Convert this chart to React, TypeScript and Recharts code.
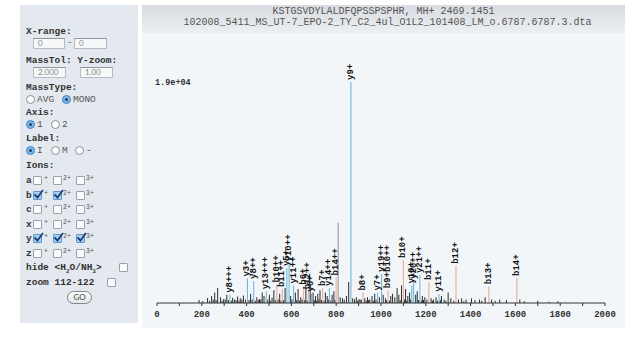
import React from 'react';
import { ComposedChart, Bar, XAxis, YAxis, Cell, LabelList } from 'recharts';

// ---- data ----
const titleLine1 = 'KSTGSVDYLALDFQPSSPSPHR, MH+ 2469.1451';
const titleLine2 = '102008_5411_MS_UT-7_EPO-2_TY_C2_4ul_O1L2_101408_LM_o.6787.6787.3.dta';
const maxIntensityLabel = '1.9e+04';

// y ions (blue)
const yIonMz = [326, 404, 432, 488, 580, 590, 610, 690, 770, 866, 985, 1003, 1138, 1146, 1174, 1259];
const yIonInt = [700, 2100, 1900, 1000, 3000, 3400, 1500, 800, 1300, 19000, 900, 2500, 1500, 1900, 2400, 800];
const yIonLabel = ['y8+++', 'y3+', 'y8++', 'y13+++', 'y5+', 'y10++', 'y11++', 'y6+', 'y14++', 'y9+', 'y7+', 'y19++', 'y10+', 'y20++', 'y21++', 'y11+'];

// b ions (salmon)
const bIonMz = [535, 560, 655, 676, 740, 800, 920, 1032, 1100, 1214, 1335, 1482, 1607];
const bIonInt = [1600, 1200, 1400, 1000, 1300, 2200, 900, 1100, 3700, 1800, 3200, 1450, 2150];
const bIonLabel = ['b10++', 'b11++', 'b6+', 'b12++', 'b7+', 'b14++', 'b8+', 'b9+b10++', 'b10+', 'b11+', 'b12+', 'b13+', 'b14+'];

// unassigned peaks (dark)
const otherMz = [188, 205, 226, 244, 258, 271, 284, 298, 312, 338, 346, 360, 372, 386, 395, 418, 446, 458, 470, 478, 502, 514, 522, 548, 572, 597, 618, 630, 642, 665, 684, 697, 708, 718, 728, 752, 760, 782, 790, 809, 818, 828, 836, 846, 856, 874, 882, 890, 902, 912, 928, 940, 950, 960, 972, 993, 1010, 1020, 1044, 1052, 1062, 1072, 1080, 1092, 1110, 1120, 1128, 1155, 1162, 1185, 1196, 1224, 1235, 1246, 1270, 1282, 1300, 1312, 1346, 1360, 1380, 1404, 1420, 1440, 1465, 1494, 1510, 1530, 1560, 1620, 1700, 1790];
const otherInt = [250, 180, 420, 600, 900, 1300, 500, 350, 700, 450, 300, 550, 400, 650, 300, 800, 500, 350, 900, 600, 700, 450, 1100, 800, 1300, 600, 900, 1200, 500, 1300, 1500, 900, 600, 800, 1100, 900, 600, 700, 1000, 6900, 500, 400, 300, 600, 1800, 400, 300, 500, 350, 300, 400, 500, 300, 600, 800, 500, 700, 400, 600, 800, 500, 1300, 700, 1500, 1200, 600, 900, 700, 1000, 600, 500, 400, 300, 500, 600, 300, 900, 400, 300, 400, 300, 400, 250, 300, 500, 300, 200, 300, 250, 300, 200, 150];

// small background peaks near the baseline
const smallMz = [235, 251, 264, 291, 305, 319, 332, 353, 366, 379, 411, 425, 439, 452, 464, 495, 508, 528, 541, 554, 566, 603, 624, 636, 648, 660, 671, 702, 713, 723, 734, 746, 765, 776, 795, 896, 907, 934, 945, 966, 978, 1026, 1038, 1086, 1105, 1115, 1133, 1168, 1180, 1190, 1205, 1230, 1252, 1265, 1290, 1325, 1370, 1450, 1640, 1750];
const smallInt = [200, 300, 250, 200, 300, 250, 200, 250, 200, 300, 250, 300, 200, 250, 300, 300, 200, 250, 300, 200, 250, 300, 250, 200, 300, 250, 200, 250, 200, 300, 250, 200, 300, 200, 250, 200, 250, 200, 250, 200, 300, 250, 200, 250, 300, 200, 300, 250, 200, 250, 300, 200, 200, 250, 200, 200, 150, 200, 150, 100];

const xTicks = [0, 100, 200, 300, 400, 500, 600, 700, 800, 900, 1000, 1100, 1200, 1300, 1400, 1500, 1600, 1700, 1800, 1900, 2000];

const ionTypes = ['a', 'b', 'c', 'x', 'y', 'z'];
const ionChecks: boolean[][] = [
  [false, false, false],
  [true, true, false],
  [false, false, false],
  [false, false, false],
  [true, true, true],
  [false, false, false],
];

const COLORS = { y: '#62b4dc', b: '#e6a593', other: '#2a2a2a', gray: '#8c8c8c' };

type Peak = { mz: number; intensity: number; label: string; kind: string };
const peaks: Peak[] = [
  ...otherMz.map((m, i) => ({ mz: m, intensity: otherInt[i], label: '', kind: otherInt[i] > 5000 ? 'gray' : 'other' })),
  ...smallMz.map((m, i) => ({ mz: m, intensity: smallInt[i], label: '', kind: 'other' })),
  ...bIonMz.map((m, i) => ({ mz: m, intensity: bIonInt[i], label: bIonLabel[i], kind: 'b' })),
  ...yIonMz.map((m, i) => ({ mz: m, intensity: yIonInt[i], label: yIonLabel[i], kind: 'y' })),
].sort((a, b) => a.mz - b.mz);

const mono = '"Liberation Mono", "DejaVu Sans Mono", monospace';

const PeakLabel = (props: any) => {
  const { x, y, width, value } = props;
  if (!value) return null;
  const cx = Number(x) + Number(width) / 2;
  const ty = Number(y) - 2;
  return (
    <text
      x={cx}
      y={ty}
      transform={`rotate(-90 ${cx} ${ty})`}
      textAnchor="start"
      dominantBaseline="central"
      fontSize={9}
      fontFamily={mono}
      fontWeight="bold"
      fill="#111"
    >
      {value}
    </text>
  );
};

const txt: React.CSSProperties = {
  position: 'absolute',
  fontFamily: mono,
  fontWeight: 'bold',
  fontSize: 9.5,
  color: '#333',
  lineHeight: '10px',
  whiteSpace: 'nowrap',
};

const Box = ({ left, top, width, text }: { left: number; top: number; width: number; text: string }) => (
  <div
    style={{
      position: 'absolute',
      left,
      top,
      width,
      height: 11,
      background: '#f6f8fa',
      border: '1px solid #b5bcc4',
      borderTopColor: '#8f969e',
      boxSizing: 'border-box',
      fontFamily: 'Lato, "Noto Sans", sans-serif',
      fontSize: 8,
      color: '#888',
      lineHeight: '9px',
      paddingLeft: 4,
    }}
  >
    {text}
  </div>
);

const Radio = ({ left, top, checked }: { left: number; top: number; checked?: boolean }) => (
  <div
    style={{
      position: 'absolute',
      left,
      top,
      width: 9,
      height: 9,
      borderRadius: '50%',
      boxSizing: 'border-box',
      border: checked ? '1px solid #3f86c6' : '1px solid #8a9098',
      background: checked ? '#7fb8e6' : '#fafbfc',
    }}
  >
    {checked && (
      <div style={{ position: 'absolute', left: 2, top: 2, width: 3, height: 3, borderRadius: '50%', background: '#1d3f66' }} />
    )}
  </div>
);

const Check = ({ left, top, checked }: { left: number; top: number; checked?: boolean }) => (
  <div
    style={{
      position: 'absolute',
      left,
      top,
      width: 9,
      height: 9,
      boxSizing: 'border-box',
      borderRadius: 1,
      border: checked ? '1px solid #5c98cc' : '1px solid #9aa1a9',
      background: checked ? '#a9d0f0' : '#fafbfc',
    }}
  >
    {checked && (
      <svg width={11} height={10} style={{ position: 'absolute', left: -1, top: -3 }}>
        <path d="M1.5 5.5 L4.5 8.5 L10 1" stroke="#1f3f7a" strokeWidth={1.8} fill="none" />
      </svg>
    )}
  </div>
);

const Sup = ({ left, top, t }: { left: number; top: number; t: string }) => (
  <div style={{ ...txt, left, top, fontSize: 6.5, fontWeight: 'normal', color: '#555' }}>{t}</div>
);

const Panel = () => {
  const rowTop0 = 176;
  const rowStep = 14.6;
  return (
    <div style={{ position: 'absolute', left: 20, top: 5, width: 118, height: 318, background: '#e4e9ef' }}>
      <div style={{ position: 'absolute', left: -20, top: -5 }}>
        <div style={{ ...txt, left: 26, top: 27 }}>X-range:</div>
        <Box left={33} top={38} width={32} text="0" />
        <div style={{ ...txt, left: 67, top: 38, fontWeight: 'normal', color: '#666' }}>-</div>
        <Box left={74} top={38} width={33} text="0" />
        <div style={{ ...txt, left: 26, top: 56 }}>MassTol: Y-zoom:</div>
        <Box left={33} top={67} width={33} text="2.000" />
        <Box left={80} top={67} width={33} text="1.00" />
        <div style={{ ...txt, left: 26, top: 83 }}>MassType:</div>
        <Radio left={26} top={95} />
        <div style={{ ...txt, left: 37, top: 95, fontWeight: 'normal', color: '#555' }}>AVG</div>
        <Radio left={62} top={95} checked />
        <div style={{ ...txt, left: 73, top: 95, fontWeight: 'normal', color: '#555' }}>MONO</div>
        <div style={{ ...txt, left: 26, top: 108 }}>Axis:</div>
        <Radio left={26} top={120} checked />
        <div style={{ ...txt, left: 37, top: 120, fontWeight: 'normal', color: '#555' }}>1</div>
        <Radio left={51} top={120} />
        <div style={{ ...txt, left: 62, top: 120, fontWeight: 'normal', color: '#555' }}>2</div>
        <div style={{ ...txt, left: 26, top: 134 }}>Label:</div>
        <Radio left={26} top={146} checked />
        <div style={{ ...txt, left: 37, top: 146, fontWeight: 'normal', color: '#555' }}>I</div>
        <Radio left={51} top={146} />
        <div style={{ ...txt, left: 62, top: 146, fontWeight: 'normal', color: '#555' }}>M</div>
        <Radio left={75} top={146} />
        <div style={{ ...txt, left: 86, top: 146, fontWeight: 'normal', color: '#555' }}>-</div>
        <div style={{ ...txt, left: 26, top: 161 }}>Ions:</div>
        {ionTypes.map((t, i) => {
          const top = rowTop0 + i * rowStep;
          return (
            <React.Fragment key={t}>
              <div style={{ ...txt, left: 26, top }}>{t}</div>
              <Check left={33} top={top} checked={ionChecks[i][0]} />
              <Sup left={44} top={top - 2} t="+" />
              <Check left={53} top={top} checked={ionChecks[i][1]} />
              <Sup left={63} top={top - 2} t="2+" />
              <Check left={76} top={top} checked={ionChecks[i][2]} />
              <Sup left={86} top={top - 2} t="3+" />
            </React.Fragment>
          );
        })}
        <div style={{ ...txt, left: 26, top: 263 }}>
          hide &lt;H<sub style={{ fontSize: 6 }}>2</sub>O/NH<sub style={{ fontSize: 6 }}>3</sub>&gt;
        </div>
        <Check left={119} top={263} />
        <div style={{ ...txt, left: 26, top: 278 }}>zoom 112-122</div>
        <Check left={107} top={278} />
        <div
          style={{
            position: 'absolute',
            left: 67,
            top: 291,
            width: 25,
            height: 13,
            borderRadius: 7,
            border: '1px solid #7d848c',
            background: 'linear-gradient(#fdfdfd, #e2e5e8)',
            boxSizing: 'border-box',
            fontFamily: 'Lato, "Noto Sans", sans-serif',
            fontSize: 8,
            color: '#444',
            textAlign: 'center',
            lineHeight: '11px',
          }}
        >
          GO
        </div>
      </div>
    </div>
  );
};

const xTickFmt = (v: number) => (v % 200 === 0 ? String(v) : '');

export default function App() {
  return (
    <div style={{ position: 'absolute', left: 0, top: 0, width: 625, height: 339, background: '#ffffff', overflow: 'hidden' }}>
      <Panel />
      <div style={{ position: 'absolute', left: 142, top: 5, width: 483, height: 323, background: '#f3f6f9' }} />
      <div
        style={{
          position: 'absolute',
          left: 142,
          top: 5,
          width: 483,
          height: 28,
          background: 'linear-gradient(#d8dbdf, #edf0f2)',
        }}
      />
      <div style={{ position: 'absolute', left: 142, top: 6, width: 483, textAlign: 'center', fontFamily: mono, fontSize: 10, color: '#555', lineHeight: '11px' }}>
        {titleLine1}
      </div>
      <div style={{ position: 'absolute', left: 146, top: 17, width: 483, textAlign: 'center', fontFamily: mono, fontSize: 10, color: '#555', lineHeight: '11px' }}>
        {titleLine2}
      </div>
      <div style={{ position: 'absolute', left: 155, top: 79, fontFamily: mono, fontWeight: 'bold', fontSize: 8.5, color: '#333', lineHeight: '9px' }}>
        {maxIntensityLabel}
      </div>
      <div style={{ position: 'absolute', left: 142, top: 33 }}>
        <ComposedChart
          width={483}
          height={295}
          data={peaks}
          margin={{ top: 49, right: 20, bottom: 5, left: 15 }}
          barGap={0}
          barCategoryGap={0}
        >
          <XAxis
            dataKey="mz"
            type="number"
            domain={[0, 2000]}
            ticks={xTicks}
            tickFormatter={xTickFmt}
            interval={0}
            height={20}
            tickSize={3}
            tickMargin={5}
            stroke="#333"
            tick={{ fontSize: 9, fontFamily: mono, fontWeight: 'bold', fill: '#333' }}
            allowDataOverflow
          />
          <YAxis hide domain={[0, 19000]} type="number" allowDataOverflow />
          <Bar dataKey="intensity" barSize={1} isAnimationActive={false}>
            {peaks.map((p, i) => (
              <Cell key={i} fill={COLORS[p.kind as keyof typeof COLORS]} />
            ))}
            <LabelList dataKey="label" content={PeakLabel} />
          </Bar>
        </ComposedChart>
      </div>
    </div>
  );
}
